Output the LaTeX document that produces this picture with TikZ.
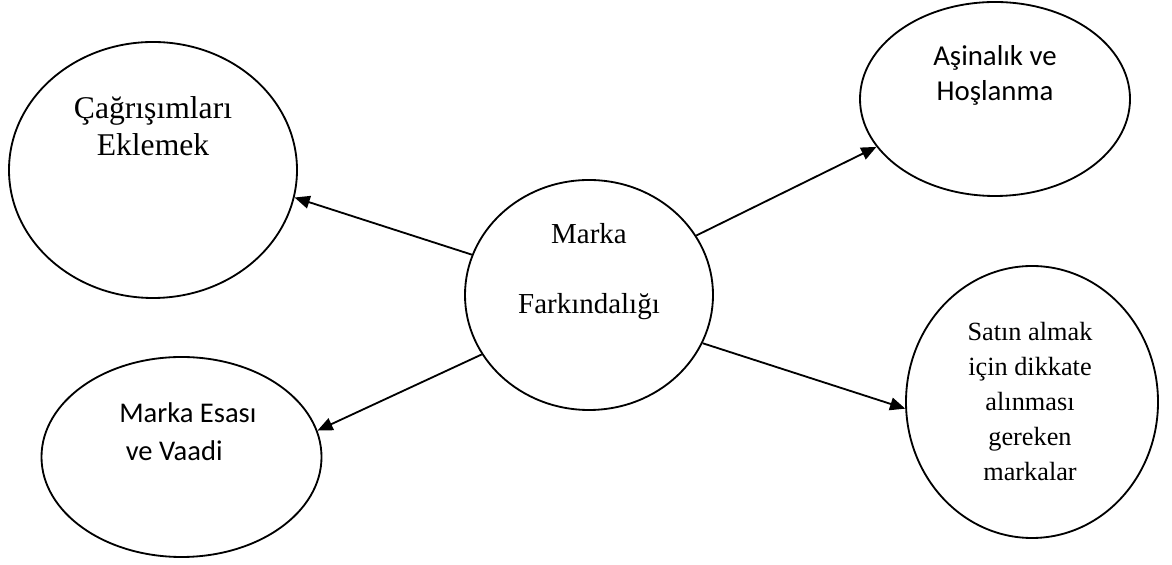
\documentclass[tikz,border=0pt]{standalone}
\usepackage{fontspec}
\setmainfont{Liberation Serif}
\newfontfamily\calibri{Carlito}
\usetikzlibrary{calc, positioning}
\usetikzlibrary{shapes.geometric}
\usetikzlibrary{arrows.meta}

\begin{document}
\begin{tikzpicture}[scale=1.0,
	bubble/.style={draw, ellipse, line width=1.3pt, inner sep=0pt},
	link/.style={line width=1.3pt, -{Triangle[length=0.38cm,width=0.32cm]}},
	word/.style={align=center, inner sep=0pt}]
	\useasboundingbox (0,0) rectangle (29.3,14.125);
	
	% ellipses
	\node[bubble, minimum width=6.2cm, minimum height=5.75cm] (mf) at (14.725,6.75) {};
	\node[bubble, minimum width=7.2cm, minimum height=6.4cm] (ca) at (3.825,9.875) {};
	\node[bubble, minimum width=6.75cm, minimum height=4.85cm] (ah) at (24.875,11.65) {};
	\node[bubble, minimum width=6.3cm, minimum height=6.8cm] (sa) at (25.8,4.075) {};
	\node[bubble, minimum width=7.0cm, minimum height=5.0cm] (me) at (4.5375,2.7) {};
	
	% texts
	\node[word, font=\fontsize{20.6}{49.8}\selectfont] (mftxt) at ([yshift=0.575cm]mf.center) {Marka\\Farkındalığı};
	\node[word, font=\fontsize{22.5}{26.3}\selectfont] (catxt) at ([yshift=1.09cm]ca.center) {Çağrışımları\\Eklemek};
	\node[word, font=\calibri\fontsize{20.5}{24.9}\selectfont] (ahtxt) at ([yshift=0.59cm]ah.center) {Aşinalık ve\\Hoşlanma};
	\node[word, font=\fontsize{18.7}{24.9}\selectfont] (satxt) at ([xshift=-0.05cm]sa.center) {Satın almak\\için dikkate\\alınması\\gereken\\markalar};
	\node[word, align=left, font=\calibri\fontsize{20.3}{27}\selectfont] (metxt) at ([xshift=0.16cm,yshift=0.625cm]me.center) {Marka Esası\\\ ve Vaadi};
	
	% arrows
	\draw[link] (mf.161) -- (ca.349);
	\draw[link] (mf.29.6) -- (ah.202.6);
	\draw[link] (mf.337) -- (sa.183.7);
	\draw[link] (mf.209.4) -- (me.11.7);
\end{tikzpicture}
\end{document}
